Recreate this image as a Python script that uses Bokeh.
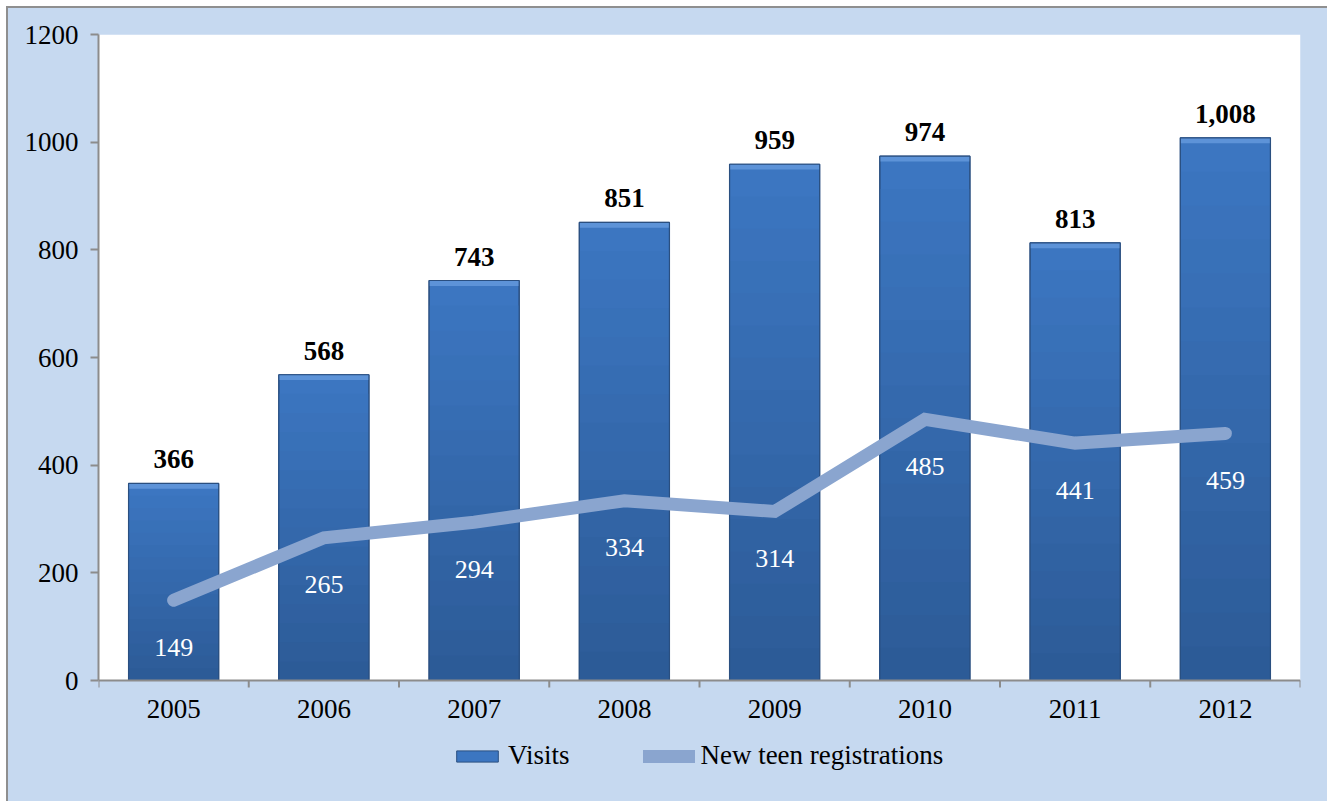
import math
from bokeh.plotting import figure
from bokeh.models import (ColumnDataSource, Range1d, FixedTicker, Legend, LegendItem,
                          BoxAnnotation)
from bokeh.embed import file_html
from bokeh.resources import INLINE
from bokeh.core.properties import value

# ---- data ----
years = ["2005", "2006", "2007", "2008", "2009", "2010", "2011", "2012"]
visits = [366, 568, 743, 851, 959, 974, 813, 1008]
new_teen = [149, 265, 294, 334, 314, 485, 441, 459]
y_ticks = [0, 200, 400, 600, 800, 1000, 1200]

FONT = "'Liberation Serif'"
BG = "#c6d9f0"
AXC = "#8c8c8c"

Y_MAX = 1200
PLOT_PX = 646     # pixel height of the white plot area
EXTRA_PX = 121    # blue space below it
y_min = -Y_MAX * EXTRA_PX / PLOT_PX

n = len(years)
xs = [i + 0.5 for i in range(n)]
bounds = list(range(n + 1))

p = figure(frame_width=1202, frame_height=PLOT_PX + EXTRA_PX, output_backend="svg",
           toolbar_location=None,
           x_range=Range1d(0, n), y_range=Range1d(y_min, Y_MAX),
           min_border_left=90, min_border_top=26, min_border_right=27,
           min_border_bottom=0)
p.background_fill_alpha = 0
p.border_fill_color = BG
p.outline_line_color = None
p.grid.visible = False
p.styles = {"border-left": "2px solid #8f8f8f", "border-top": "2px solid #8f8f8f",
            "margin-left": "6px", "margin-top": "6px", "background-color": BG}

# white plotting area
p.add_layout(BoxAnnotation(left=0, right=n, bottom=0, top=Y_MAX, fill_color="white",
                           fill_alpha=1, line_color=None, level="underlay"))

# bars with vertical gradient approximated by overlapping bands
n_bands = 16
c_bot = (0x2c, 0x5a, 0x96)
c_top = (0x3c, 0x77, 0xc2)
band_renderers = []
for k in reversed(range(n_bands)):
    f1 = (k + 1) / n_bands
    t = (k + 0.5) / n_bands
    col = "#%02x%02x%02x" % tuple(int(round(a + (b - a) * t)) for a, b in zip(c_bot, c_top))
    r = p.vbar(x=xs, width=0.6, bottom=0, top=[v * f1 for v in visits],
               fill_color=col, line_color=None)
    band_renderers.append(r)
legend_bar = band_renderers[0]
legend_bar.glyph.line_color = "#2a4f80"
legend_bar.glyph.line_width = 1
# top bevel
p.vbar(x=xs, width=0.6, bottom=[v - 10 for v in visits], top=visits,
       fill_color="#5d93d8", line_color=None)
p.vbar(x=xs, width=0.6, top=visits, fill_color=None, line_color="#2a4f80",
       line_width=1.2)

line = p.line(x=xs, y=new_teen, line_color="#8aa5cf", line_width=13,
              line_cap="round", line_join="miter")

src = ColumnDataSource(dict(x=xs, v=visits, n=new_teen,
                            vlab=[f"{v:,}" for v in visits],
                            nlab=[str(v) for v in new_teen]))
p.text(x="x", y="v", text="vlab", source=src, text_align="center",
       text_baseline="alphabetic", y_offset=-24,
       text_font=value(FONT), text_font_style="bold",
       text_font_size="27px", text_color="black")
p.text(x="x", y="n", text="nlab", source=src, text_align="center",
       text_baseline="middle", y_offset=47,
       text_font=value(FONT), text_font_style="normal",
       text_font_size="26px", text_color="white")

# x axis drawn by hand at y = 0 (category boundaries carry the ticks)
p.xaxis.visible = False
p.segment(x0=[0], x1=[n], y0=[0], y1=[0], line_color=AXC, line_width=2)
p.ray(x=bounds, y=[0] * len(bounds), length=7, length_units="screen",
      angle=-math.pi / 2, line_color=AXC, line_width=2)
p.text(x=xs, y=[0] * n, text=years, text_align="center", text_baseline="top",
       y_offset=19, text_font=value(FONT), text_font_size="27px", text_color="black")

ay = p.yaxis[0]
ay.ticker = FixedTicker(ticks=y_ticks)
ay.bounds = (0, Y_MAX)
ay.major_tick_out = 8
ay.major_tick_in = 0
ay.minor_tick_out = 0
ay.minor_tick_in = 0
ay.major_tick_line_color = AXC
ay.major_tick_line_width = 2
ay.axis_line_color = AXC
ay.axis_line_width = 2
ay.major_label_text_font = FONT
ay.major_label_text_font_size = "27px"
ay.major_label_text_color = "black"
ay.major_label_standoff = 12

legend = Legend(items=[LegendItem(label="Visits", renderers=[legend_bar]),
                       LegendItem(label="New teen registrations", renderers=[line])],
                orientation="horizontal", location=(353, 30),
                background_fill_alpha=0, border_line_color=None,
                label_text_font=FONT, label_text_font_size="27px",
                label_text_color="black", glyph_width=52, glyph_height=14,
                label_standoff=5, spacing=74, padding=0, margin=0)
p.add_layout(legend, "center")

open("out.html", "w").write(file_html(p, INLINE))
